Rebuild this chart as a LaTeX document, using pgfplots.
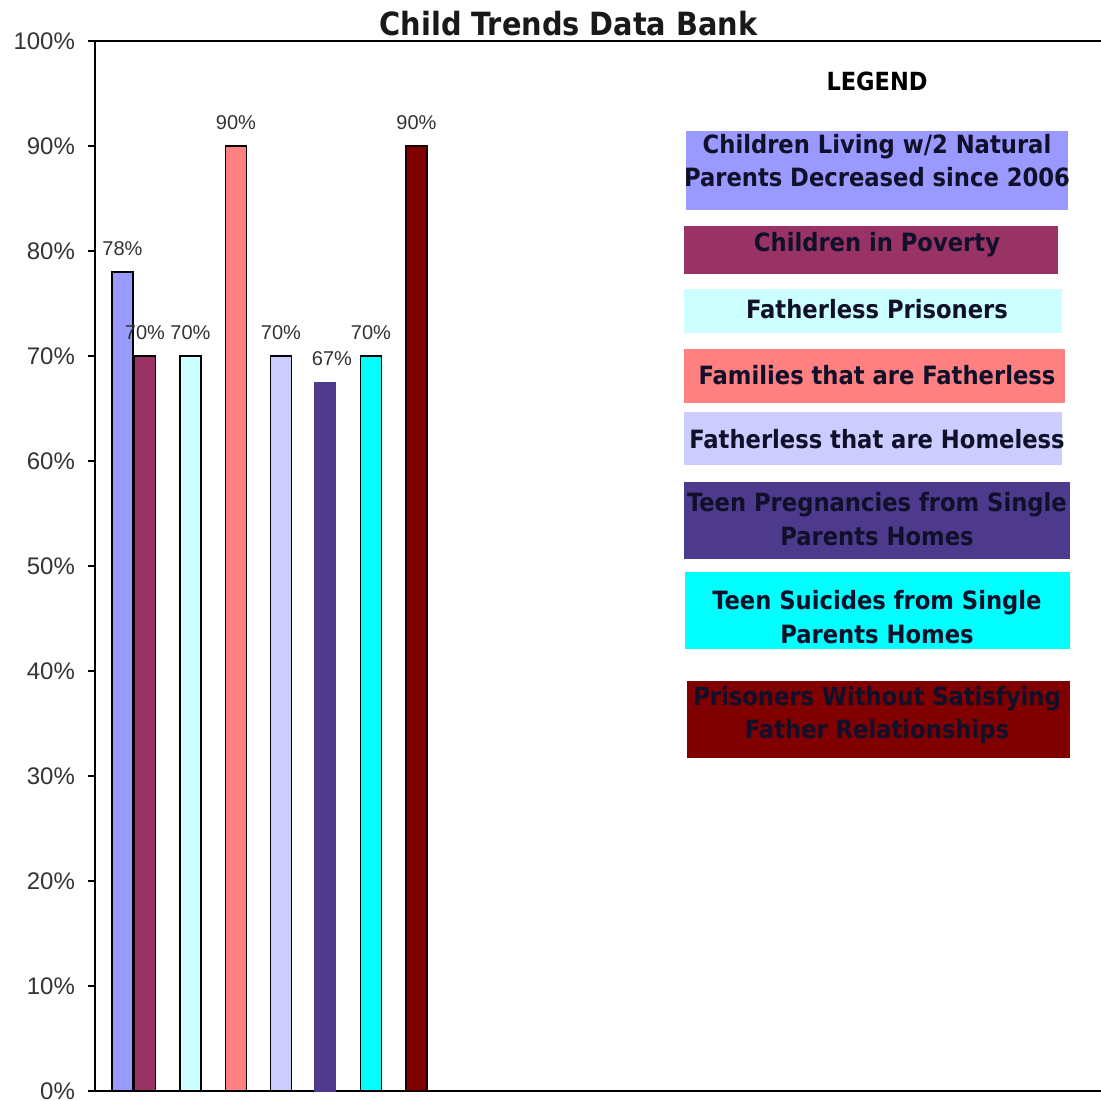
\documentclass[border=0pt]{standalone}
\usepackage{pgfplots}
\pgfplotsset{compat=1.18}
\usepackage{fontspec}
\setmainfont{Liberation Sans}
\newfontfamily\tahoma{DejaVu Sans Condensed}

\definecolor{c1}{HTML}{9999FF}
\definecolor{c2}{HTML}{993366}
\definecolor{c3}{HTML}{CCFFFF}
\definecolor{c4}{HTML}{FF8080}
\definecolor{c5}{HTML}{CCCCFF}
\definecolor{c6}{HTML}{4E3A8C}
\definecolor{c7}{HTML}{00FFFF}
\definecolor{c8}{HTML}{800000}
\definecolor{labgray}{HTML}{333333}
\definecolor{legtext}{HTML}{10102A}

\newcommand{\legfont}{\tahoma\bfseries\fontsize{12.6}{16.8}\selectfont}

\begin{document}
\begin{tikzpicture}
    \begin{axis}[
        scale only axis,
        width=503pt, height=525pt,
        xmin=0, xmax=1006,
        ymin=0, ymax=100,
        axis x line=box,
        axis y line=left,
        y axis line style={-},
        axis line style={line width=0.7pt},
        xtick=\empty,
        ytick={0,10,...,100},
        yticklabel={\pgfmathprintnumber{\tick}\%},
        /pgf/number format/assume math mode=true,
        yticklabel style={font=\fontsize{12}{13}\selectfont, text=labgray, xshift=-3pt},
        tick align=outside,
        major tick length=3.5pt,
        tick style={black, line width=0.7pt},
        clip=false,
        every node near coord/.append style={font=\fontsize{10}{11}\selectfont, text=labgray, yshift=4.6pt},
    ]
    % bars (x in pixel-like units from the left axis line)
    \addplot[ybar, bar shift=0pt, bar width=21, fill=c1, draw=black, line width=0.6pt, nodes near coords={78\%}] coordinates {(27.5,78)};
    \addplot[ybar, bar shift=0pt, bar width=21, fill=c2, draw=black, line width=0.6pt, nodes near coords={70\%}] coordinates {(50,70)};
    \addplot[ybar, bar shift=0pt, bar width=21, fill=c3, draw=black, line width=0.6pt, nodes near coords={70\%}] coordinates {(95.5,70)};
    \addplot[ybar, bar shift=0pt, bar width=21, fill=c4, draw=black, line width=0.6pt, nodes near coords={90\%}] coordinates {(141,90)};
    \addplot[ybar, bar shift=0pt, bar width=21, fill=c5, draw=black, line width=0.6pt, nodes near coords={70\%}] coordinates {(186,70)};
    \addplot[ybar, bar shift=0pt, bar width=21, fill=c6, draw=c6, line width=0.6pt, nodes near coords={67\%}, every node near coord/.append style={xshift=3.5pt}] coordinates {(230,67.5)};
    \addplot[ybar, bar shift=0pt, bar width=21, fill=c7, draw=black, line width=0.6pt, nodes near coords={70\%}] coordinates {(276,70)};
    \addplot[ybar, bar shift=0pt, bar width=21, fill=c8, draw=black!80!c8, line width=0.6pt, nodes near coords={90\%}] coordinates {(321.5,90)};

    % title
    \node[font=\tahoma\bfseries\fontsize{16}{18}\selectfont, text=black!90, anchor=base] at (axis cs:473.5,100.476) {Child Trends Data Bank};

    % hand-drawn legend on the right
    \node[font=\tahoma\bfseries\fontsize{12.5}{14}\selectfont, text=black] at (axis cs:782,96.19) {LEGEND};
    \fill[c1] (axis cs:591,91.43) rectangle (axis cs:973,83.90);
    \fill[c2] (axis cs:589,82.38) rectangle (axis cs:963,77.81);
    \fill[c3] (axis cs:589,76.38) rectangle (axis cs:967,72.19);
    \fill[c4] (axis cs:589,70.67) rectangle (axis cs:970,65.52);
    \fill[c5] (axis cs:589,64.67) rectangle (axis cs:967,59.62);
    \fill[c6] (axis cs:589,58.00) rectangle (axis cs:975,50.67);
    \fill[c7] (axis cs:590,49.43) rectangle (axis cs:975,42.10);
    \fill[c8] (axis cs:592,39.05) rectangle (axis cs:975,31.71);
    \begin{scope}[every node/.style={font=\legfont, text=legtext, align=center}]
    \node at (axis cs:782,88.62) {Children Living w/2 Natural\\Parents Decreased since 2006};
    \node at (axis cs:782,80.57) {Children in Poverty};
    \node at (axis cs:782,74.48) {Fatherless Prisoners};
    \node at (axis cs:782,68.19) {Families that are Fatherless};
    \node at (axis cs:782,62.10) {Fatherless that are Homeless};
    \node at (axis cs:782,54.48) {Teen Pregnancies from Single\\Parents Homes};
    \node at (axis cs:782,45.14) {Teen Suicides from Single\\Parents Homes};
    \node at (axis cs:782,35.81) {Prisoners Without Satisfying\\Father Relationships};
    \end{scope}

    \coordinate (bbsw) at (axis cs:-95,-0.952);
    \coordinate (bbne) at (axis cs:1006,103.905);
    \end{axis}
    \pgfresetboundingbox
    \path (bbsw) rectangle (bbne);
\end{tikzpicture}
\end{document}
